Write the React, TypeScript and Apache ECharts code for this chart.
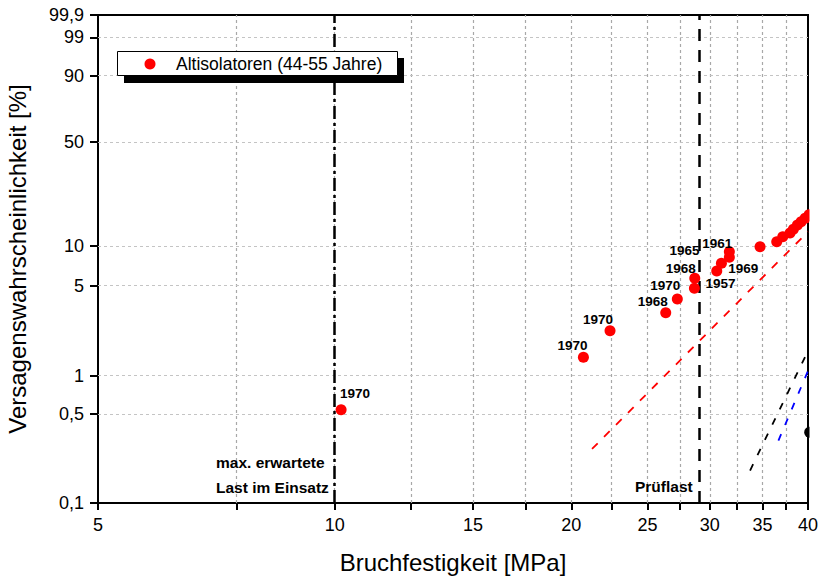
import React, { useEffect, useRef } from 'react';
import * as echarts from 'echarts';

// ---- axis ticks ----
const xTickLabels = [5, 10, 15, 20, 25, 30, 35, 40];
const xMinorTicks = [7.5, 12.5, 17.5, 22.5, 27.5, 32.5, 37.5];
const yTickValues = [0.1, 0.5, 1, 5, 10, 50, 90, 99, 99.9];
const yTickLabels = ['0,1', '0,5', '1', '5', '10', '50', '90', '99', '99,9'];

// ---- measured specimens (Altisolatoren 44-55 Jahre) ----
const strengthMPa = [10.19, 20.72, 22.4, 26.37, 27.28, 28.68, 28.71, 30.62, 31.04, 31.77, 31.77, 34.76, 36.5, 37.15, 37.95, 38.32, 38.78, 39.2, 39.66, 40.12];
const failurePct = [0.54, 1.39, 2.24, 3.09, 3.95, 4.77, 5.69, 6.47, 7.4, 8.21, 9.05, 9.86, 10.75, 11.7, 12.46, 13.27, 14.26, 15.07, 15.95, 16.9];
const yearLabels = ['1970', '1970', '1970', '1968', '1970', '1957', '1968', '', '1965', '1969', '1961', '', '', '', '', '', '', '', '', ''];

// ---- fitted Weibull lines (end points) ----
const fitRedMPa = [21.25, 40];
const fitRedPct = [0.266, 12.74];
const fitBlackMPa = [33.76, 39.66];
const fitBlackPct = [0.18, 1.4];
const fitBlueMPa = [36.68, 40];
const fitBluePct = [0.309, 1.09];
const otherMPa = [40.2];
const otherPct = [0.36];

// ---- reference loads ----
const expectedLoadMPa = 10;
const testLoadMPa = 29.1;

const fx = (mpa: number) => Math.log(mpa);
const fy = (pct: number) => Math.log(-Math.log(1 - pct / 100));

const FONT = '"Liberation Sans", Arial, Helvetica, sans-serif';

// label offsets (presentation only)
const labelOffsets: number[][] = [
  [14, -16], [-11, -12], [-12, -11.5], [-13, -11.5], [-12, -13], [26, -5], [-14, -10], [0, 0],
  [-37, -13], [14, 11], [-12, -8],
];

export default function App() {
  const ref = useRef<HTMLDivElement>(null);
  useEffect(() => {
    if (!ref.current) return;
    const chart = echarts.init(ref.current, undefined, { renderer: 'svg' });
    const xTickAll = [...xTickLabels, ...xMinorTicks].sort((a, b) => a - b).map(fx);
    const yTicksT = yTickValues.map(fy);
    const yMin = fy(0.1);
    const yMax = fy(99.9);
    const yLabelFor = (v: number) => {
      let best = 0;
      let bd = Infinity;
      yTicksT.forEach((t, i) => {
        const d = Math.abs(t - v);
        if (d < bd) { bd = d; best = i; }
      });
      return yTickLabels[best];
    };
    const pointData = strengthMPa.map((m, i) => {
      const item: any = { value: [fx(m), fy(failurePct[i])] };
      if (yearLabels[i]) {
        item.label = {
          show: true,
          formatter: yearLabels[i],
          position: 'inside',
          offset: labelOffsets[i],
          color: '#000',
          fontWeight: 'bold',
          fontSize: 13.5,
          fontFamily: FONT,
        };
      }
      return item;
    });
    const lineData = (ms: number[], ps: number[]) => ms.map((m, i) => [fx(m), fy(ps[i])]);

    const gridStyle = () => ({ color: '#c4c4c4', width: 1, type: [3, 3] });
    const vGridStyle = () => ({ color: '#a8a8a8', width: 1.2, type: [3, 3] });
    const hGrid: any[] = yTicksT.slice(1, -1).map((v) => ({ yAxis: v, lineStyle: gridStyle() }));
    const vGrid: any[] = xTickAll.slice(1, -1).map((v) => ({ xAxis: v, lineStyle: vGridStyle() }));
    const markBase = { silent: true, symbol: ['none', 'none'], label: { show: false }, animation: false, precision: 12 };

    const option: any = {
      animation: false,
      backgroundColor: '#fff',
      grid: {
        left: 98, right: 17, top: 15, bottom: 74,
        outerBoundsMode: 'none',
        containLabel: false,
        show: true, borderColor: '#000', borderWidth: 2, backgroundColor: 'transparent',
      },
      xAxis: {
        type: 'value',
        min: fx(5),
        max: fx(40),
        name: 'Bruchfestigkeit [MPa]',
        nameLocation: 'middle',
        nameGap: 47,
        nameTextStyle: { fontSize: 24, fontFamily: FONT, color: '#000' },
        axisLine: { show: true, onZero: false, lineStyle: { color: '#000', width: 2 } },
        axisTick: { show: true, customValues: xTickAll, length: 7, lineStyle: { color: '#000', width: 2 } },
        axisLabel: {
          customValues: xTickLabels.map(fx),
          formatter: (v: number) => String(Math.round(Math.exp(v))),
          fontSize: 18, fontFamily: FONT, color: '#000', margin: 13,
        },
        splitLine: { show: false },
      },
      yAxis: {
        type: 'value',
        min: yMin,
        max: yMax,
        name: 'Versagenswahrscheinlichkeit [%]',
        nameLocation: 'middle',
        nameGap: 69,
        nameTextStyle: { fontSize: 24, fontFamily: FONT, color: '#000' },
        axisLine: { show: true, onZero: false, lineStyle: { color: '#000', width: 2 } },
        axisTick: { show: true, customValues: yTicksT, length: 8, lineStyle: { color: '#000', width: 2 } },
        axisLabel: {
          customValues: yTicksT,
          formatter: (v: number) => yLabelFor(v),
          fontSize: 18, fontFamily: FONT, color: '#000', margin: 14,
        },
        splitLine: { show: false },
      },
      series: [
        {
          type: 'line',
          name: 'Weibull rot',
          data: lineData(fitRedMPa, fitRedPct),
          showSymbol: false,
          symbol: 'none',
          lineStyle: { color: '#ff0000', width: 1.8, type: [8, 9] },
          z: 3,
          markLine: {
            ...markBase,
            z: 2,
            data: [
              { xAxis: fx(expectedLoadMPa), lineStyle: { color: '#000', width: 2.5, type: [13, 4, 3, 4] } },
              { xAxis: fx(testLoadMPa), lineStyle: { color: '#000', width: 2.5, type: [12, 9] } },
            ],
          },
        },
        {
          type: 'line',
          name: 'Weibull schwarz',
          data: lineData(fitBlackMPa, fitBlackPct),
          showSymbol: false,
          symbol: 'none',
          lineStyle: { color: '#000', width: 1.8, type: [7, 10] },
          z: 3,
          markLine: { ...markBase, z: 1, data: vGrid },
        },
        {
          type: 'line',
          name: 'Weibull blau',
          data: lineData(fitBlueMPa, fitBluePct),
          showSymbol: false,
          symbol: 'none',
          lineStyle: { color: '#0000ff', width: 1.8, type: [7, 10] },
          z: 3,
          markLine: { ...markBase, z: 1, data: hGrid },
        },
        {
          type: 'scatter',
          name: 'Sonstige',
          data: lineData(otherMPa, otherPct),
          symbol: 'circle',
          symbolSize: 11,
          clip: false,
          itemStyle: { color: '#000', opacity: 1 },
          z: 4,
        },
        {
          type: 'scatter',
          name: 'Altisolatoren (44-55 Jahre)',
          data: pointData,
          symbol: 'circle',
          symbolSize: 11,
          clip: false,
          itemStyle: { color: '#ff0000', opacity: 1 },
          z: 5,
        },
      ],
      graphic: [
        // mask outside the right frame edge
        { type: 'rect', z: 50, silent: true, shape: { x: 809.5, y: 0, width: 20, height: 504 }, style: { fill: '#fff' } },
        // legend
        { type: 'rect', z: 60, shape: { x: 124, y: 58, width: 280, height: 25 }, style: { fill: '#000' } },
        { type: 'rect', z: 61, shape: { x: 117.5, y: 51.5, width: 280, height: 24 }, style: { fill: '#fff', stroke: '#000', lineWidth: 1 } },
        { type: 'circle', z: 62, shape: { cx: 150, cy: 64, r: 5.5 }, style: { fill: '#ff0000' } },
        { type: 'text', z: 62, style: { text: 'Altisolatoren (44-55 Jahre)', x: 176, y: 64, align: 'left', verticalAlign: 'middle', font: `17.5px ${FONT}`, fill: '#000' } },
        // annotations
        { type: 'text', z: 40, style: { text: 'max. erwartete', x: 216, y: 462, align: 'left', verticalAlign: 'middle', font: `bold 15.5px ${FONT}`, fill: '#000' } },
        { type: 'text', z: 40, style: { text: 'Last im Einsatz', x: 216, y: 487, align: 'left', verticalAlign: 'middle', font: `bold 15.5px ${FONT}`, fill: '#000' } },
        { type: 'text', z: 40, style: { text: 'Prüflast', x: 635, y: 486, align: 'left', verticalAlign: 'middle', font: `bold 15.5px ${FONT}`, fill: '#000' } },
      ],
    };
    chart.setOption(option);
    return () => chart.dispose();
  }, []);
  return <div ref={ref} style={{ position: 'fixed', left: 0, top: 0, width: 825, height: 577 }} />;
}
